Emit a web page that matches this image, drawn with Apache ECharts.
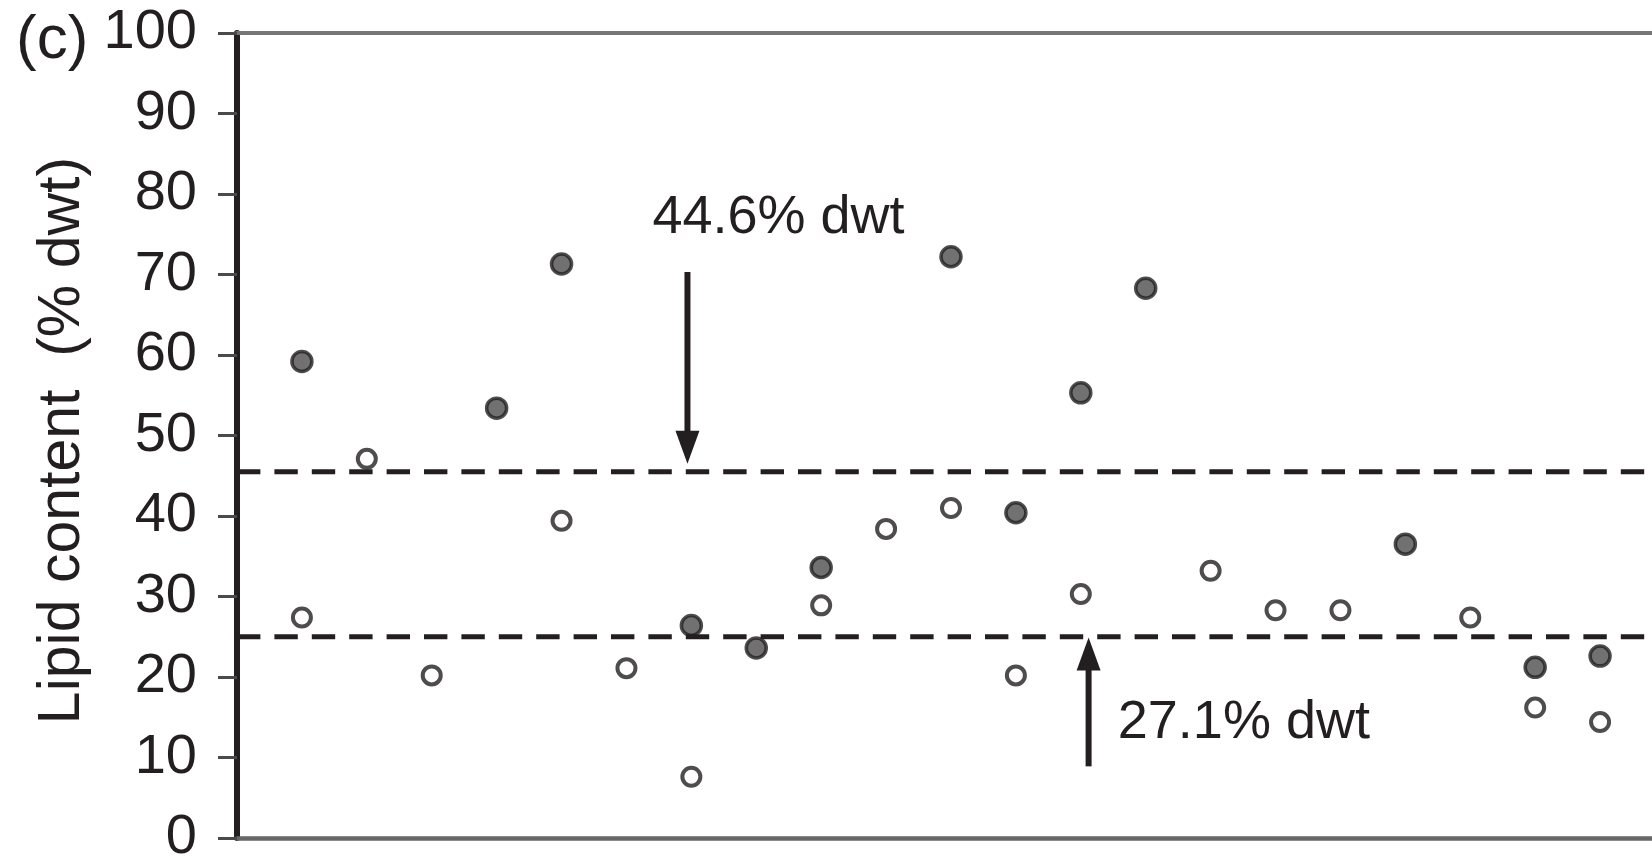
<!DOCTYPE html>
<html><head><meta charset="utf-8">
<script src="https://cdn.jsdelivr.net/npm/echarts@6/dist/echarts.min.js"></script>
<style>html,body{margin:0;padding:0;background:#fff}#c{width:1652px;height:866px}</style>
</head><body><div id="c"></div>
<script>
// ---- data ----
const solidX = [1, 4, 5, 7, 8, 9, 11, 12, 13, 14, 18, 20, 21];
const solidY = [59.2, 53.4, 71.3, 26.4, 23.6, 33.6, 72.2, 40.4, 55.3, 68.3, 36.5, 21.2, 22.6];
const openX = [1, 2, 3, 5, 6, 7, 9, 10, 11, 12, 13, 15, 16, 17, 19, 20, 21];
const openY = [27.4, 47.1, 20.2, 39.4, 21.1, 7.6, 28.9, 38.4, 41.0, 20.2, 30.3, 33.2, 28.3, 28.3, 27.4, 16.2, 14.4];
const yTickLabels = ['0','10','20','30','40','50','60','70','80','90','100'];
const refLevels = [45.5, 25.0];
const arrowX = [6.94, 13.12];
const arrowFrom = [70.3, 8.9];
const arrowTo = [46.5, 24.9];
const noteText = ['44.6% dwt', '27.1% dwt'];
const noteX = [6.40, 13.57];
const noteY = [77.0, 14.3];
const panelLabel = '(c)';
const yAxisTitle = 'Lipid content  (% dwt)';
const xMin = 0, xMax = 21.8;

// ---- chart ----
const INK = '#231f20';
const FONT = '"Liberation Sans", Arial, Helvetica, sans-serif';
const chart = echarts.init(document.getElementById('c'), null, {renderer: 'canvas'});

const dashSeries = refLevels.map(L => ({
  type: 'line',
  data: [[xMin, L], [xMax, L]],
  showSymbol: false, symbol: 'none', silent: true, z: 5,
  lineStyle: {color: INK, width: 5, type: [23.4, 14], cap: 'butt'},
  animation: false
}));

const option = {
  animation: false,
  backgroundColor: '#ffffff',
  grid: {left: 237, top: 33, bottom: 23, right: 0, containLabel: false},
  xAxis: [
    {type: 'value', min: xMin, max: xMax, position: 'bottom',
     axisLine: {show: true, lineStyle: {color: '#676767', width: 4.5}},
     axisTick: {show: false}, axisLabel: {show: false}, splitLine: {show: false}},
    {type: 'value', min: xMin, max: xMax, position: 'top',
     axisLine: {show: true, lineStyle: {color: '#767676', width: 4}},
     axisTick: {show: false}, axisLabel: {show: false}, splitLine: {show: false}}
  ],
  yAxis: {
    type: 'value', min: 0, max: 100, interval: 10,
    name: yAxisTitle, nameLocation: 'middle', nameGap: 144,
    nameTextStyle: {fontFamily: FONT, fontSize: 59, color: INK, padding: [0, 10, 0, 0]},
    axisLine: {show: true, lineStyle: {color: INK, width: 6}},
    axisTick: {show: true, inside: false, length: 19, lineStyle: {color: '#4a4a4a', width: 3}},
    axisLabel: {margin: 40, fontFamily: FONT, fontSize: 56, color: INK,
      formatter: (v) => yTickLabels[Math.round(v / 10)]},
    splitLine: {show: false}
  },
  graphic: [{
    type: 'text', x: 16, y: 41,
    style: {text: panelLabel, font: '62px ' + FONT, fill: INK, align: 'left', verticalAlign: 'middle'}
  }],
  series: [
    {
      type: 'scatter', name: 'open', z: 3,
      data: openX.map((x, i) => [x, openY[i]]),
      symbol: 'circle', symbolSize: 18,
      itemStyle: {color: '#ffffff', borderColor: INK, borderWidth: 4}
    },
    {
      type: 'scatter', name: 'solid', z: 3,
      data: solidX.map((x, i) => [x, solidY[i]]),
      symbol: 'circle', symbolSize: 20,
      itemStyle: {color: '#4d4d4d', borderColor: INK, borderWidth: 3.5}
    },
    ...dashSeries,
    {
      type: 'custom', name: 'arrows', z: 6, silent: true,
      data: arrowX.map((x, i) => [x, arrowFrom[i], arrowTo[i]]),
      encode: {x: 0, y: [1, 2]},
      renderItem: (params, api) => {
        const x = api.value(0);
        const p1 = api.coord([x, api.value(1)]);
        const p2 = api.coord([x, api.value(2)]);
        const dir = p2[1] > p1[1] ? 1 : -1;
        const headLen = 33, hw = 12;
        const baseY = p2[1] - dir * headLen;
        return {
          type: 'group',
          children: [
            {type: 'line', shape: {x1: p1[0], y1: p1[1], x2: p1[0], y2: baseY + dir * 2},
             style: {stroke: INK, lineWidth: 6}},
            {type: 'polygon', shape: {points: [[p2[0] - hw, baseY], [p2[0] + hw, baseY], [p2[0], p2[1]]]},
             style: {fill: INK}}
          ]
        };
      }
    },
    {
      type: 'custom', name: 'notes', z: 6, silent: true,
      data: noteX.map((x, i) => [x, noteY[i], i]),
      encode: {x: 0, y: 1},
      renderItem: (params, api) => {
        const pt = api.coord([api.value(0), api.value(1)]);
        return {
          type: 'text', x: pt[0], y: pt[1],
          style: {text: noteText[api.value(2)], font: '54px ' + FONT, fill: INK,
                  align: 'left', verticalAlign: 'middle'}
        };
      }
    }
  ]
};
chart.setOption(option);
</script>
</body></html>
